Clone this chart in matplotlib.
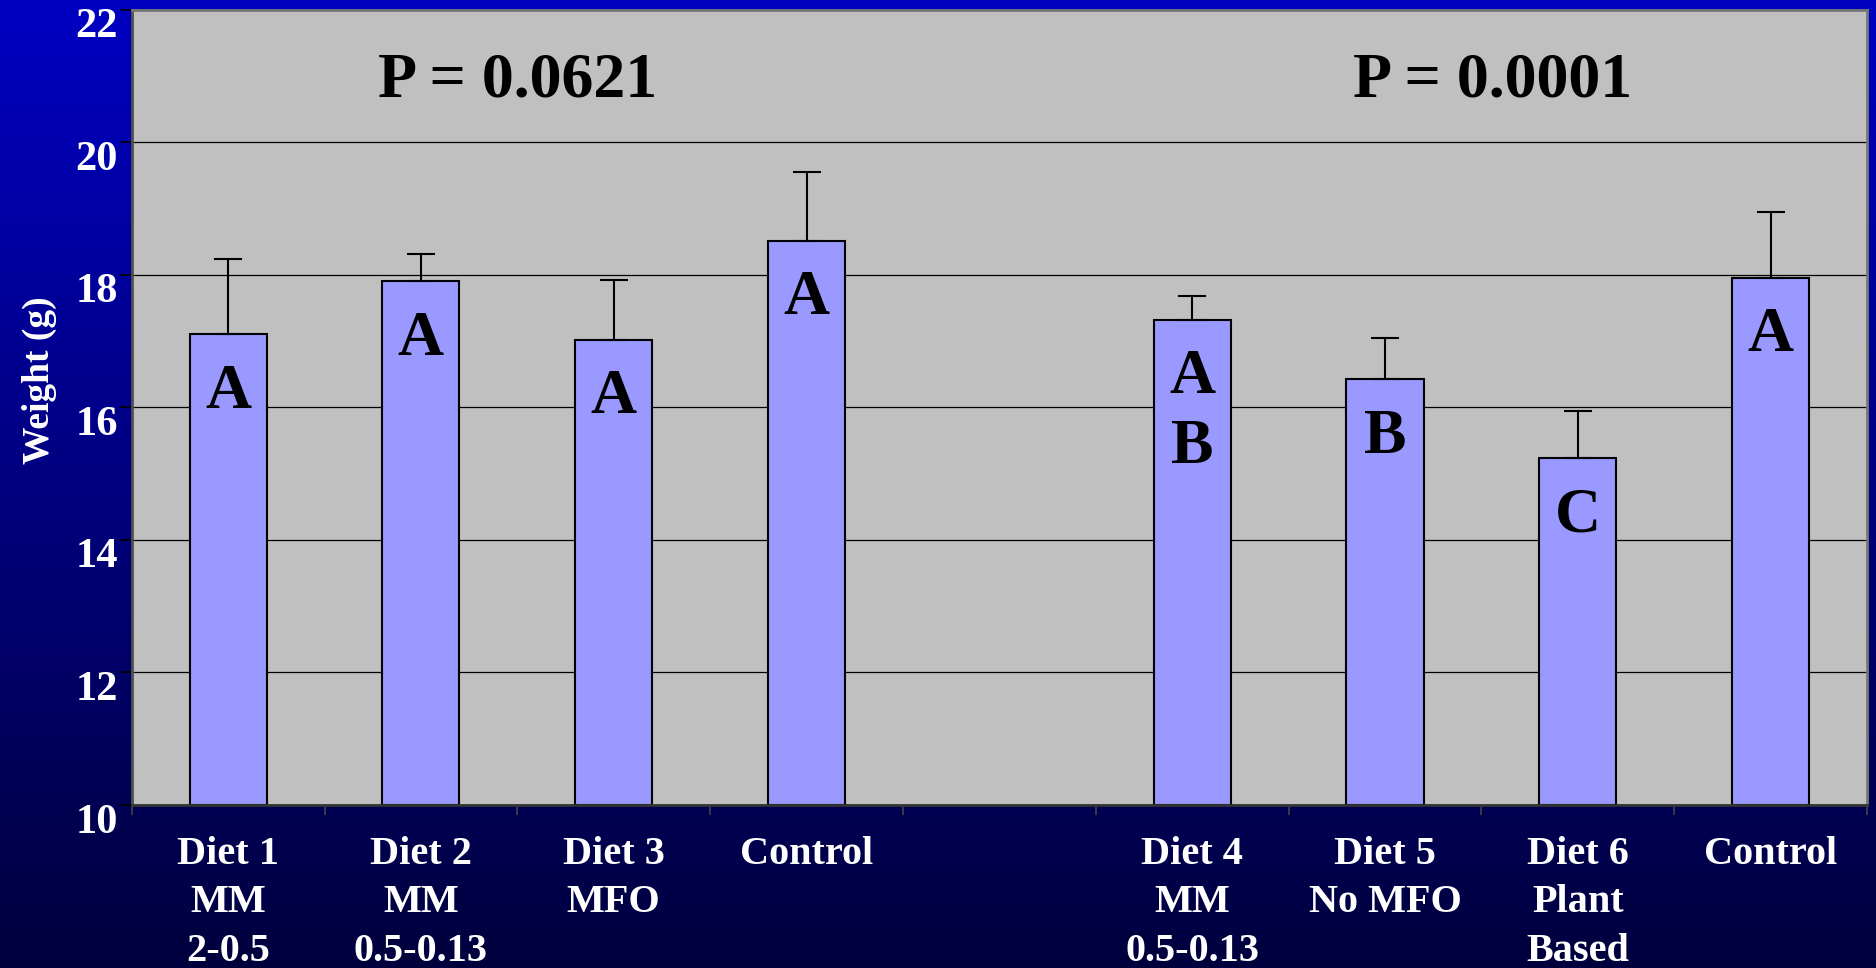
import numpy as np
import matplotlib
matplotlib.use("Agg")
import matplotlib.pyplot as plt
from matplotlib.transforms import offset_copy

# mean weight (g) and SE per diet, two trials
trial1_labels = ["Diet 1\nMM\n2-0.5", "Diet 2\nMM\n0.5-0.13", "Diet 3\nMFO", "Control"]
trial1_means = [17.1, 17.9, 17.02, 18.51]
trial1_err = [1.14, 0.41, 0.9, 1.04]
trial1_groups = ["A", "A", "A", "A"]

trial2_labels = ["Diet 4\nMM\n0.5-0.13", "Diet 5\nNo MFO", "Diet 6\nPlant\nBased", "Control"]
trial2_means = [17.32, 16.42, 15.23, 17.95]
trial2_err = [0.36, 0.63, 0.72, 0.99]
trial2_groups = ["A\nB", "B", "C", "A"]

p_values = ["P = 0.0621", "P = 0.0001"]

plt.rcParams["font.family"] = ["Liberation Serif", "DejaVu Serif"]
plt.rcParams["font.weight"] = "bold"

fig = plt.figure(figsize=(18.76, 9.68), dpi=100)

# blue slide background, lighter at the top
bg = fig.add_axes([0, 0, 1, 1])
grad = np.linspace(0, 1, 256).reshape(-1, 1)
top = np.array([0.0, 0.0, 0.76])
bot = np.array([0.0, 0.0, 0.24])
img = top + (bot - top) * grad[..., None]
bg.imshow(img, aspect="auto", extent=[0, 1, 0, 1])
bg.set_axis_off()

ax = fig.add_axes([0.0702, 0.1684, 0.9250, 0.8216])
ax.set_facecolor("#c0c0c0")

labels = trial1_labels + trial2_labels
means = trial1_means + trial2_means
errs = trial1_err + trial2_err
groups = trial1_groups + trial2_groups
# one empty slot between the two trials
x = np.r_[np.arange(len(trial1_means)), np.arange(len(trial2_means)) + len(trial1_means) + 1]

ax.set_ylim(10, 22)
ax.set_xlim(-0.5, x[-1] + 0.5)
ax.set_yticks(np.arange(10, 23, 2))
ax.yaxis.grid(True, color="black", lw=0.9)
ax.set_axisbelow(True)

ax.bar(x, np.array(means) - 10, bottom=10, width=0.4, color="#9999ff",
       edgecolor="black", lw=1.5, zorder=2)
ax.errorbar(x, means, yerr=[np.zeros(len(errs)), errs], fmt="none",
            ecolor="black", elinewidth=1.5, capsize=10, capthick=1.5, zorder=3)

for xi, m, g in zip(x, means, groups):
    ax.annotate(g, (xi, m), xytext=(0, -21), textcoords="offset points",
                ha="center", va="top", fontsize=46, fontweight="bold",
                linespacing=1.27, zorder=4)

ax.text(1.5, 20.69, p_values[0], ha="center", va="baseline", fontsize=46, fontweight="bold")
ax.text(6.56, 20.69, p_values[1], ha="center", va="baseline", fontsize=46, fontweight="bold")

ax.set_xticks(x)
ax.set_xticklabels(labels, color="white", fontsize=29, fontweight="bold", linespacing=1.42)
ax.set_xticks(np.arange(-0.5, x[-1] + 1, 1), minor=True)
ax.tick_params(axis="x", which="major", length=0, pad=22)
ax.tick_params(axis="x", which="minor", length=7, width=1.2, color="#444444", direction="out")
ax.tick_params(axis="y", length=9, width=1.2, color="black", pad=1, labelcolor="white", labelsize=30.5)
# y labels hang just below their tick line
for t in ax.get_yticklabels():
    t.set_fontweight("bold")
    t.set_va("top")
    t.set_transform(offset_copy(t.get_transform(), fig=fig, x=0, y=1, units="points"))

ax.set_ylabel("Weight (g)", color="white", fontsize=27, fontweight="bold")
ax.yaxis.set_label_coords(-0.043, 0.534)

for s in ax.spines.values():
    s.set_color("#777777")
    s.set_linewidth(2)
ax.spines["left"].set_color("#505050")
ax.spines["bottom"].set_color("#333333")

fig.savefig("out.png", dpi=100)
